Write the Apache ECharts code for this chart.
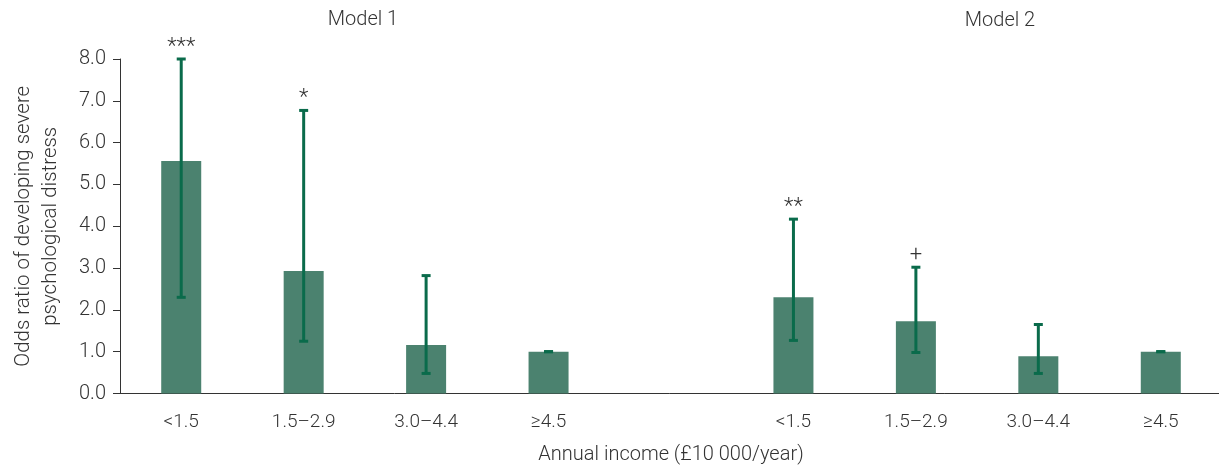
<!DOCTYPE html>
<html>
<head>
<meta charset="utf-8">
<script src="https://cdn.jsdelivr.net/npm/echarts@6/dist/echarts.min.js"></script>
<style>
  html, body { margin: 0; padding: 0; background: #fff; }
  #chart { width: 1219px; height: 468px; }
</style>
</head>
<body>
<div id="chart"></div>
<script>
// Income bands (£10 000/year)
const incomeBands = ['<1.5', '1.5–2.9', '3.0–4.4', '≥4.5'];

// Model 1: odds ratios with 95% CI
const model1OR   = [5.56, 2.93, 1.16, 1.00];
const model1Low  = [2.30, 1.25, 0.48, 1.00];
const model1High = [8.00, 6.77, 2.82, 1.00];
const model1Sig  = ['***', '*', '', ''];

// Model 2: odds ratios with 95% CI
const model2OR   = [2.30, 1.73, 0.89, 1.00];
const model2Low  = [1.27, 0.98, 0.48, 1.00];
const model2High = [4.17, 3.02, 1.65, 1.00];
const model2Sig  = ['**', '+', '', ''];

// y-axis ticks
const yTicks = [0, 1, 2, 3, 4, 5, 6, 7, 8];

// Both models share one category axis, separated by a blank slot
const categories = [...incomeBands, '', ...incomeBands];
const orValues = [...model1OR, null, ...model2OR];
const errData = [];
[[model1Low, model1High, model1Sig, 0], [model2Low, model2High, model2Sig, incomeBands.length + 1]]
  .forEach(([lo, hi, sig, offset]) => {
    lo.forEach((v, i) => errData.push([offset + i, v, hi[i], sig[i]]));
  });

const FONT = 'Roboto, "Liberation Sans", sans-serif';
const TEXT = '#333333';
const BAR = '#4b826f';
const ERR = '#0a6b4b';

const chart = echarts.init(document.getElementById('chart'), null, { renderer: 'canvas' });

chart.setOption({
  animation: false,
  textStyle: { fontFamily: FONT, fontWeight: 300 },
  grid: { left: 120, top: 59, width: 1102, height: 334.5, outerBoundsMode: 'none', containLabel: false },
  graphic: [
    { type: 'text', x: 363, y: 20, style: { text: 'Model 1', font: '300 20px ' + FONT, fill: TEXT, textAlign: 'center', textVerticalAlign: 'middle' } },
    { type: 'text', x: 1000, y: 21, style: { text: 'Model 2', font: '300 20px ' + FONT, fill: TEXT, textAlign: 'center', textVerticalAlign: 'middle' } }
  ],
  xAxis: {
    type: 'category',
    data: categories,
    name: 'Annual income (£10 000/year)',
    nameLocation: 'middle',
    nameGap: 51,
    nameTextStyle: { fontSize: 20, color: TEXT, fontFamily: FONT, fontWeight: 300 },
    axisLine: { lineStyle: { color: '#333', width: 1 } },
    axisTick: {
      alignWithLabel: true,
      length: 8,
      lineStyle: { color: '#333' },
      interval: (idx, val) => val !== ''
    },
    axisLabel: { fontSize: 19, color: TEXT, margin: 19, interval: 0, fontFamily: FONT, fontWeight: 300 },
    splitLine: { show: false }
  },
  yAxis: {
    type: 'value',
    min: yTicks[0],
    max: yTicks[yTicks.length - 1],
    interval: 1,
    name: 'Odds ratio of developing severe\npsychological distress',
    nameLocation: 'middle',
    nameGap: 56,
    nameTextStyle: { fontSize: 20.5, color: TEXT, lineHeight: 27, fontFamily: FONT, fontWeight: 300 },
    axisLine: { show: true, lineStyle: { color: '#333', width: 1 } },
    axisTick: { show: true, length: 7, lineStyle: { color: '#333' } },
    axisLabel: { fontSize: 20, color: TEXT, margin: 14, formatter: v => v.toFixed(1), fontFamily: FONT, fontWeight: 300 },
    splitLine: { show: false }
  },
  series: [
    {
      type: 'bar',
      data: orValues,
      barWidth: 40,
      itemStyle: { color: BAR },
      z: 2
    },
    {
      type: 'custom',
      data: errData,
      z: 3,
      renderItem: (params, api) => {
        const x = api.value(0);
        const pLow = api.coord([x, api.value(1)]);
        const pHigh = api.coord([x, api.value(2)]);
        const sig = errData[params.dataIndex][3];
        const hw = 4.5;
        const style = { stroke: ERR, lineWidth: 3 };
        const children = [
          { type: 'line', shape: { x1: pLow[0], y1: pLow[1], x2: pHigh[0], y2: pHigh[1] }, style },
          { type: 'line', shape: { x1: pHigh[0] - hw, y1: pHigh[1], x2: pHigh[0] + hw, y2: pHigh[1] }, style },
          { type: 'line', shape: { x1: pLow[0] - hw, y1: pLow[1], x2: pLow[0] + hw, y2: pLow[1] }, style }
        ];
        if (sig) {
          children.push({
            type: 'text',
            style: {
              x: pHigh[0], y: pHigh[1] - 12,
              text: sig,
              font: '300 22px ' + FONT,
              fill: TEXT,
              textAlign: 'center',
              textVerticalAlign: 'middle'
            }
          });
        }
        return { type: 'group', children };
      }
    }
  ]
});
</script>
</body>
</html>
